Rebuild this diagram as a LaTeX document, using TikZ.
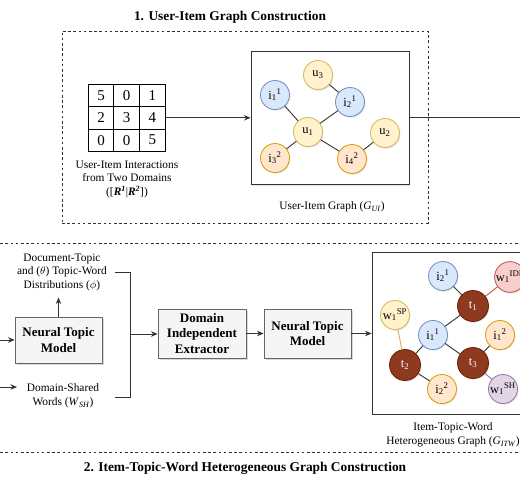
\documentclass[tikz,border=0pt]{standalone}
\usepackage{fontspec}
\setmainfont{Liberation Serif}
\usetikzlibrary{arrows.meta,shadows}
\definecolor{bluefill}{HTML}{DAE8FC}\definecolor{bluedraw}{HTML}{6C8EBF}
\definecolor{yelfill}{HTML}{FFF2CC}\definecolor{yeldraw}{HTML}{D6B656}
\definecolor{orfill}{HTML}{FFE6CC}\definecolor{ordraw}{HTML}{D79B00}
\definecolor{pinkfill}{HTML}{F8CECC}\definecolor{pinkdraw}{HTML}{B85450}
\definecolor{purfill}{HTML}{E1D5E7}\definecolor{purdraw}{HTML}{9673A6}
\definecolor{brownfill}{HTML}{8E3A1F}\definecolor{browndraw}{HTML}{6D1F00}
\definecolor{grayfill}{HTML}{F5F5F5}\definecolor{graydraw}{HTML}{666666}
\definecolor{linec}{HTML}{333333}
\tikzset{
  titletext/.style={font=\fontsize{13.4}{16}\selectfont\bfseries, inner sep=0pt},
  bodytext/.style={font=\fontsize{11.4}{13.5}\selectfont, align=center, inner sep=0pt},
  dashbox/.style={draw=linec, line width=0.9pt, dash pattern=on 2.6pt off 2.6pt},
  gbox/.style={draw=linec, line width=0.9pt, fill=white, drop shadow={shadow xshift=1.2pt,shadow yshift=-1.2pt,opacity=0.2}},
  cell/.style={draw=black, line width=0.9pt, minimum width=25.7pt, minimum height=22.3pt, inner sep=0pt, font=\fontsize{15}{15}\selectfont},
  procbox/.style={draw=graydraw, fill=grayfill, line width=0.9pt, align=center, inner sep=0pt,
    font=\fontsize{13}{15.5}\selectfont\bfseries, drop shadow={shadow xshift=1.5pt,shadow yshift=-1.5pt,opacity=0.3}},
  gnode/.style={circle, minimum size=29pt, inner sep=0pt, line width=0.8pt, font=\fontsize{12.5}{14}\selectfont,
    drop shadow={shadow xshift=1pt,shadow yshift=-1.2pt,opacity=0.2}},
  bnode/.style={gnode, fill=bluefill, draw=bluedraw},
  ynode/.style={gnode, fill=yelfill, draw=yeldraw},
  onode/.style={gnode, fill=orfill, draw=ordraw},
  pnode/.style={gnode, fill=pinkfill, draw=pinkdraw},
  vnode/.style={gnode, fill=purfill, draw=purdraw},
  tnode/.style={gnode, minimum size=31pt, fill=brownfill, draw=browndraw, text=white},
  gedge/.style={draw=linec, line width=0.9pt},
  arr/.style={draw=linec, line width=1pt, -{Stealth[length=6.5pt,width=5.5pt]}},
  plain/.style={draw=linec, line width=1pt},
}
\newcommand{\lbl}[3]{#1\textsubscript{#2}\textsuperscript{#3}}
\begin{document}
\begin{tikzpicture}[x=1pt,y=-1pt]
\useasboundingbox (0,0) rectangle (520,480);
\clip (0,0) rectangle (520,480);
\fill[white] (0,0) rectangle (520,480);

% ---------- Section 1 ----------
\node[titletext] (title1) at (230,17) {1. User-Item Graph Construction};
\node[dashbox, minimum width=366pt, minimum height=192pt, inner sep=0pt] (sec1) at (245,127) {};

% matrix
\foreach \r/\y [count=\i] in {1/95.5,2/117.8,3/140.1}{
  \foreach \c/\x [count=\j] in {1/101,2/126.7,3/152.4}{
    \node[cell] (c\i\j) at (\x,\y) {};
  }
}
\node[font=\fontsize{15}{15}\selectfont] at (c11) {5};
\node[font=\fontsize{15}{15}\selectfont] at (c12) {0};
\node[font=\fontsize{15}{15}\selectfont] at (c13) {1};
\node[font=\fontsize{15}{15}\selectfont] at (c21) {2};
\node[font=\fontsize{15}{15}\selectfont] at (c22) {3};
\node[font=\fontsize{15}{15}\selectfont] at (c23) {4};
\node[font=\fontsize{15}{15}\selectfont] at (c31) {0};
\node[font=\fontsize{15}{15}\selectfont] at (c32) {0};
\node[font=\fontsize{15}{15}\selectfont] at (c33) {5};
\node[bodytext] (mlabel) at (127,179) {User-Item Interactions\\from Two Domains\\([\textbf{\textit{R}}\textsuperscript{\textbf{\textit{1}}}|\textbf{\textit{R}}\textsuperscript{\textbf{\textit{2}}}])};

% user-item graph
\node[gbox, minimum width=158pt, minimum height=133pt, inner sep=0pt] (gui) at (330,118) {};
\node[bodytext] (guilabel) at (332,207) {User-Item Graph (\textit{G}\textsubscript{\textit{UI}})};
\draw[arr] (c23.east) -- (c23.east -| gui.west);

\node[ynode] (u3) at (318,75) {u\textsubscript{3}};
\node[bnode] (i11) at (275,95) {\lbl{i}{1}{1}};
\node[bnode] (i21) at (350,102) {\lbl{i}{2}{1}};
\node[ynode] (u1) at (308,132) {u\textsubscript{1}};
\node[ynode] (u2) at (385,133) {u\textsubscript{2}};
\node[onode] (i32) at (275,158) {\lbl{i}{3}{2}};
\node[onode] (i42) at (352,159) {\lbl{i}{4}{2}};
\draw[gedge] (i11) -- (u1);
\draw[gedge] (u1) -- (i21);
\draw[gedge] (u3) -- (i21);
\draw[gedge] (u1) -- (i32);
\draw[gedge] (u1) -- (i42);
\draw[gedge] (i42) -- (u2);

\coordinate (outR) at (540,117.8);
\draw[plain] (gui.east |- outR) -- (outR);

% ---------- Section 2 ----------
\draw[dashbox] (-5,243) -- (525,243);
\draw[dashbox] (-5,452) -- (525,452);
\node[titletext] (title2) at (245,468) {2. Item-Topic-Word Heterogeneous Graph Construction};

\node[procbox, minimum width=87pt, minimum height=46pt] (ntm1) at (58.5,340) {Neural Topic\\Model};
\coordinate (inA) at (-10,340);
\draw[arr] (inA) -- (ntm1.west);

\node[bodytext] (doc) at (62,272) {Document-Topic\\and ($\theta$) Topic-Word\\Distributions ($\phi$)};
\coordinate (upTip) at (58.5,297.5);
\draw[arr] (ntm1.north) -- (upTip);

\coordinate (inB) at (-10,387);
\coordinate (inBtip) at (17,387);
\draw[arr] (inB) -- (inBtip);
\node[bodytext] (dsw) at (63,396) {Domain-Shared\\Words (\textit{W}\textsubscript{\textit{SH}})};

\coordinate (brA) at (115,272);
\coordinate (brB) at (130,272);
\coordinate (brC) at (130,397);
\coordinate (brD) at (115,397);
\coordinate (brM) at (130,334);
\draw[plain] (brA) -- (brB) -- (brC) -- (brD);

\node[procbox, minimum width=88pt, minimum height=49pt] (die) at (202,333.5) {Domain\\Independent\\Extractor};
\node[procbox, minimum width=87pt, minimum height=49pt] (ntm2) at (307.5,333.5) {Neural Topic\\Model};
\draw[arr] (brM) -- (brM -| die.west);
\draw[arr] (die.east) -- (ntm2.west);

\node[gbox, minimum width=162pt, minimum height=162pt, inner sep=0pt] (gitw) at (453,333) {};
\draw[arr] (ntm2.east) -- (ntm2.east -| gitw.west);
\node[bodytext] (gitwlabel) at (453,435) {Item-Topic-Word\\Heterogeneous Graph (\textit{G}\textsubscript{\textit{ITW}})};

\node[bnode] (j21) at (443,276) {\lbl{i}{2}{1}};
\node[pnode] (wid) at (510,277) {\lbl{w}{1}{IDP}};
\node[tnode] (t1) at (473,306) {t\textsubscript{1}};
\node[ynode] (wsp) at (395,315) {\lbl{w}{1}{SP}};
\node[bnode] (j11) at (433,335) {\lbl{i}{1}{1}};
\node[onode] (j12) at (500,335) {\lbl{i}{1}{2}};
\node[tnode] (t2) at (405,365) {t\textsubscript{2}};
\node[tnode] (t3) at (473,363) {t\textsubscript{3}};
\node[onode] (j22) at (442,389) {\lbl{i}{2}{2}};
\node[vnode] (wsh) at (503,389) {\lbl{w}{1}{SH}};
\draw[gedge] (j21) -- (t1);
\draw[gedge, draw=pinkdraw] (t1) -- (wid);
\draw[gedge] (t1) -- (j11);
\draw[gedge, draw=yeldraw] (wsp) -- (t2);
\draw[gedge] (j11) -- (t2);
\draw[gedge] (j11) -- (t3);
\draw[gedge] (t3) -- (j12);
\draw[gedge] (t2) -- (j22);
\draw[gedge, draw=purdraw] (t3) -- (wsh);
\end{tikzpicture}
\end{document}
